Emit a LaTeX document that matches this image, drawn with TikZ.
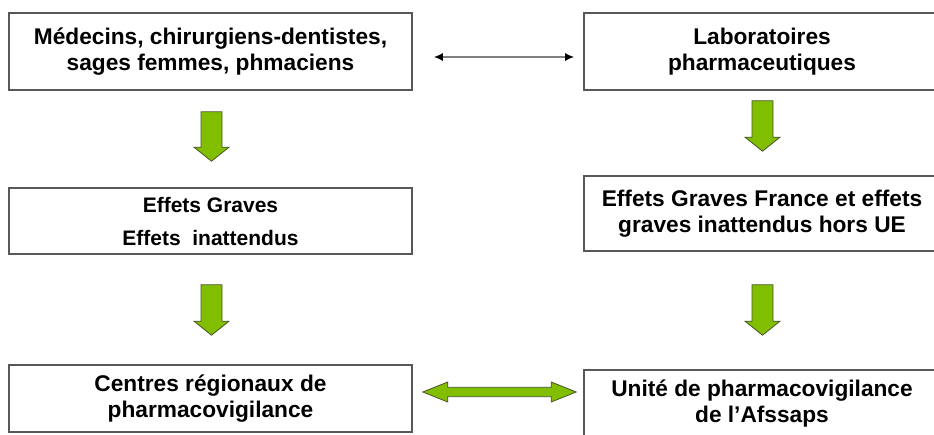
\documentclass[tikz,border=0pt]{standalone}
\usepackage{fontspec}
\setmainfont{Liberation Sans}
\usetikzlibrary{arrows.meta,calc}
\definecolor{arrowgreen}{RGB}{130,190,0}
\definecolor{arrowedge}{RGB}{72,84,44}
\definecolor{boxedge}{RGB}{88,88,88}
\tikzset{box/.style={draw=boxedge,line width=1.6pt,fill=white,align=center,inner sep=0pt,
font=\bfseries\fontsize{22.7}{26}\selectfont},
downarrow/.style={draw=arrowedge,fill=arrowgreen,line width=0.8pt,
to path={let \p1=(\tikztostart),\p2=(\tikztotarget) in
(\x1-10.5pt,\y1) -- (\x1+10.5pt,\y1) -- (\x1+10.5pt,\y2+14pt) -- (\x1+17.5pt,\y2+14pt)
-- (\x1,\y2) -- (\x1-17.5pt,\y2+14pt) -- (\x1-10.5pt,\y2+14pt) -- cycle}},
bothways/.style={draw=arrowedge,fill=arrowgreen,line width=0.8pt,
to path={let \p1=(\tikztostart),\p2=(\tikztotarget) in
(\x1,\y1) -- (\x1+25pt,\y1+10pt) -- (\x1+25pt,\y1+4.7pt) -- (\x2-25pt,\y1+4.7pt)
-- (\x2-25pt,\y1+10pt) -- (\x2,\y1) -- (\x2-25pt,\y1-10pt) -- (\x2-25pt,\y1-4.7pt)
-- (\x1+25pt,\y1-4.7pt) -- (\x1+25pt,\y1-10pt) -- cycle}},
link/.style={{Latex[length=9pt,width=8pt,black]}-{Latex[length=9pt,width=8pt,black]},
draw=black!50,line width=1.5pt}}

\begin{document}
\begin{tikzpicture}[x=1pt,y=-1pt]
    \clip (0,0) rectangle (934,434);

    % Left column
    \node[box,minimum width=403pt,minimum height=77pt] (med) at (210.5,51.5)
        {Médecins, chirurgiens-dentistes,\\sages femmes, phmaciens};
    \node[box,minimum width=403pt,minimum height=66pt,font=\bfseries\fontsize{21}{33}\selectfont] (eff) at (210.5,221)
        {Effets Graves\\Effets~~inattendus};
    \node[box,minimum width=403pt,minimum height=67pt] (crpv) at (210.5,398.5)
        {Centres régionaux de\\pharmacovigilance};

    % Right column
    \node[box,minimum width=356pt,minimum height=77pt] (labo) at (762,51.5)
        {Laboratoires\\pharmaceutiques};
    \node[box,minimum width=356pt,minimum height=75pt] (grav) at (762,213.5)
        {Effets Graves France et effets\\graves inattendus hors UE};
    \node[box,minimum width=356pt,minimum height=68pt] (unite) at (762,404)
        {Unité de pharmacovigilance\\de l’Afssaps};

    % Exchanges between columns
    \draw[link] ([xshift=21pt,yshift=-5.5pt]med.east) -- ([xshift=-9pt,yshift=-5.5pt]labo.west);
    \draw[bothways] ([xshift=10pt,yshift=6.5pt]crpv.east) to ([xshift=-7pt,yshift=12pt]unite.west);

    % Green arrows
    \draw[downarrow] ([xshift=1pt,yshift=-21pt]med.south) to ([yshift=26pt]eff.north);
    \draw[downarrow] ([xshift=1pt,yshift=-30pt]eff.south) to ([yshift=29pt]crpv.north);
    \draw[downarrow] ([xshift=0.5pt,yshift=-10pt]labo.south) to ([yshift=24pt]grav.north);
    \draw[downarrow] ([xshift=0.5pt,yshift=-33pt]grav.south) to ([yshift=34pt]unite.north);
\end{tikzpicture}
\end{document}
